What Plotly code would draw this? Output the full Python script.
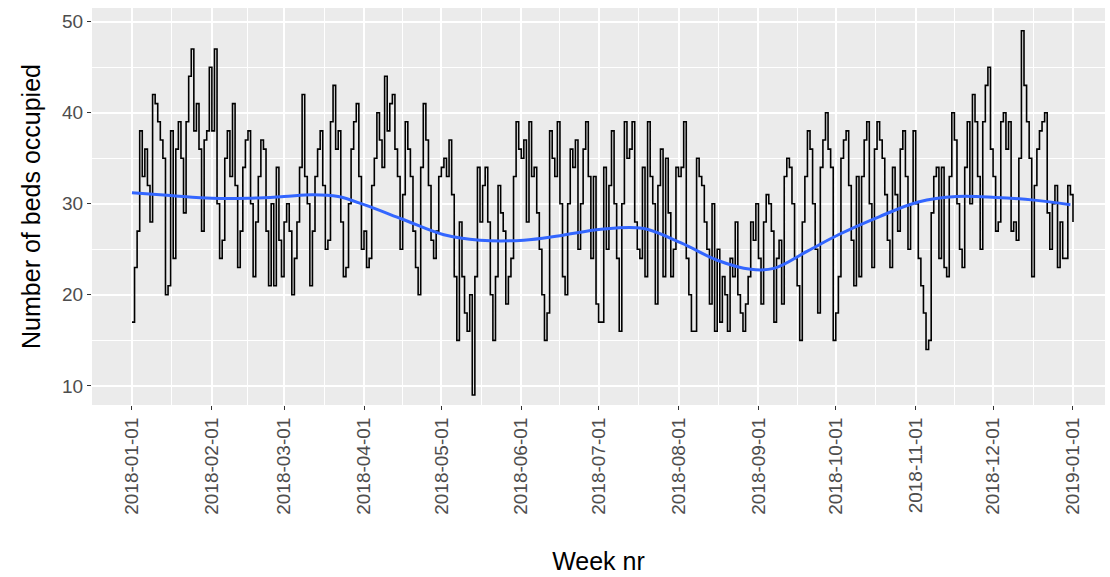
import pandas as pd
import plotly.graph_objects as go

# Daily number of occupied beds, one list per month of 2018
jan = [17, 23, 27, 38, 33, 36, 32, 28, 42, 41, 39, 37, 35, 20, 21, 38, 24, 36, 39, 35,
       29, 39, 44, 47, 38, 41, 36, 27, 37, 38, 45]
feb = [38, 47, 30, 24, 26, 35, 38, 33, 41, 32, 23, 27, 34, 37, 38, 30, 22, 28, 33, 37,
       36, 27, 21, 30, 21, 34, 26, 22]
mar = [28, 30, 27, 20, 24, 28, 34, 42, 33, 30, 21, 27, 33, 36, 38, 32, 25, 26, 39, 43,
       36, 38, 28, 22, 23, 30, 36, 39, 41, 33, 25]
apr = [27, 23, 24, 32, 35, 40, 37, 34, 44, 38, 41, 42, 36, 33, 25, 31, 39, 36, 33, 27,
       23, 20, 34, 41, 37, 32, 26, 24, 27, 33]
may = [34, 35, 33, 37, 31, 22, 15, 28, 22, 18, 16, 20, 9, 22, 34, 28, 32, 34, 28, 20,
       15, 22, 32, 29, 27, 19, 22, 24, 33, 39, 36]
jun = [35, 37, 28, 39, 33, 34, 29, 25, 20, 15, 18, 38, 35, 33, 39, 30, 22, 20, 30, 36,
       34, 37, 25, 30, 36, 39, 33, 24, 33, 19]
jul = [17, 17, 34, 25, 32, 38, 30, 24, 16, 30, 39, 35, 36, 39, 28, 25, 24, 34, 22, 39,
       33, 30, 19, 32, 36, 22, 35, 29, 22, 25, 34]
aug = [33, 34, 39, 24, 20, 16, 16, 35, 33, 32, 28, 25, 19, 30, 16, 25, 17, 22, 20, 16,
       24, 22, 28, 20, 18, 16, 19, 22, 28, 26, 30]
sep = [24, 19, 28, 31, 30, 27, 17, 24, 26, 19, 33, 35, 34, 30, 24, 21, 15, 28, 33, 38,
       36, 30, 25, 18, 34, 37, 40, 36, 34, 15]
oct_ = [18, 22, 35, 37, 38, 32, 26, 21, 33, 22, 33, 37, 39, 30, 23, 36, 39, 37, 35, 31,
        26, 23, 34, 31, 27, 36, 38, 33, 25, 30, 38]
nov = [30, 24, 21, 18, 14, 15, 29, 33, 34, 24, 34, 23, 22, 33, 40, 37, 30, 25, 23, 34,
       39, 30, 42, 39, 33, 25, 39, 43, 45, 36]
dec = [33, 27, 28, 39, 40, 36, 39, 27, 28, 26, 35, 49, 43, 39, 35, 22, 32, 36, 38, 39,
       40, 29, 25, 30, 32, 23, 28, 24, 24, 32, 31]
jan_next = [28]

beds = jan + feb + mar + apr + may + jun + jul + aug + sep + oct_ + nov + dec + jan_next
dates = pd.date_range("2018-01-01", periods=len(beds), freq="D")

# Smoothed trend (loess-style), read at a set of dates through the year
trend_dates = ["2018-01-01", "2018-01-16", "2018-02-01", "2018-02-15", "2018-03-01",
               "2018-03-12", "2018-03-22", "2018-04-01", "2018-04-16", "2018-05-02",
               "2018-05-16", "2018-06-02", "2018-06-16", "2018-07-02", "2018-07-18",
               "2018-08-02", "2018-08-16", "2018-08-29", "2018-09-07", "2018-09-20",
               "2018-10-02", "2018-10-18", "2018-11-02", "2018-11-17", "2018-12-02",
               "2018-12-17", "2018-12-31"]
trend_values = [31.2, 30.9, 30.6, 30.6, 30.8, 31.0, 30.8, 29.9, 28.3, 26.6,
                26.0, 26.0, 26.5, 27.2, 27.3, 25.7, 23.8, 22.8, 22.9, 24.8,
                26.6, 28.6, 30.2, 30.8, 30.7, 30.4, 29.9]

month_ticks = pd.date_range("2018-01-01", "2019-01-01", freq="MS")
minor_ticks = [month_ticks[i] + (month_ticks[i + 1] - month_ticks[i]) / 2
               for i in range(len(month_ticks) - 1)]

fig = go.Figure()
fig.add_trace(go.Scatter(
    x=dates, y=beds, mode="lines", line=dict(color="black", width=1.6, shape="hv"),
    showlegend=False, hoverinfo="x+y"))
fig.add_trace(go.Scatter(
    x=pd.to_datetime(trend_dates), y=trend_values, mode="lines",
    line=dict(color="#3366FF", width=3, shape="spline", smoothing=1.0),
    showlegend=False))

tick_font = dict(family="Liberation Sans, Arial, sans-serif", size=19, color="#4D4D4D")
title_font = dict(family="Liberation Sans, Arial, sans-serif", size=25, color="black")

fig.update_layout(
    width=1110, height=577,
    margin=dict(l=92, r=5, t=8, b=172),
    paper_bgcolor="white", plot_bgcolor="#EBEBEB",
    xaxis=dict(
        range=[pd.Timestamp("2017-12-16 12:00"), pd.Timestamp("2019-01-13 10:00")],
        tickmode="array", tickvals=list(month_ticks),
        ticktext=[d.strftime("%Y-%m-%d") for d in month_ticks],
        tickangle=-90, tickfont=tick_font,
        ticks="outside", ticklen=4, tickwidth=1, tickcolor="#333333",
        showgrid=True, gridcolor="white", gridwidth=1.6,
        minor=dict(tickmode="array", tickvals=minor_ticks, showgrid=True,
                   gridcolor="white", gridwidth=0.8, ticks=""),
        zeroline=False, showline=False,
        title=dict(text="Week nr", font=title_font, standoff=38),
    ),
    yaxis=dict(
        range=[7.9, 51.5],
        tickmode="array", tickvals=[10, 20, 30, 40, 50],
        tickfont=tick_font,
        ticks="outside", ticklen=4, tickwidth=1, tickcolor="#333333",
        showgrid=True, gridcolor="white", gridwidth=1.6,
        minor=dict(tickmode="array", tickvals=[15, 25, 35, 45], showgrid=True,
                   gridcolor="white", gridwidth=0.8, ticks=""),
        zeroline=False, showline=False,
        title=dict(text="Number of beds occupied", font=title_font, standoff=14),
    ),
)

fig.write_html("out.html")
